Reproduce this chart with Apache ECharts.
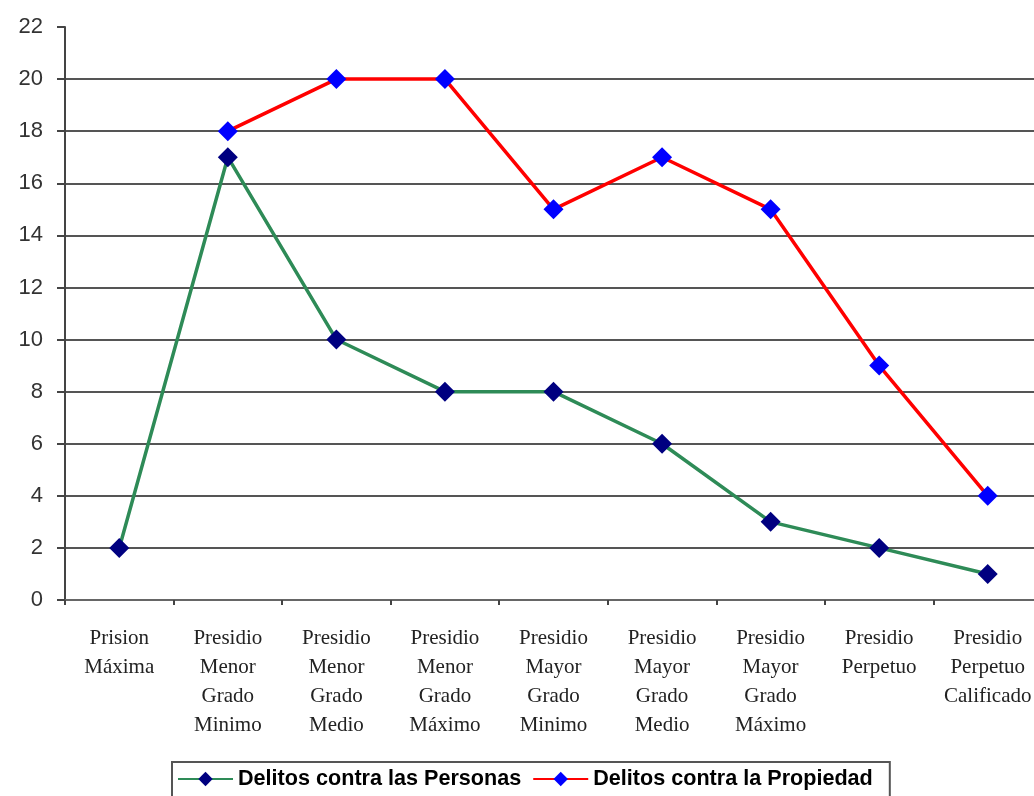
<!DOCTYPE html>
<html>
<head>
<meta charset="utf-8">
<script src="https://cdn.jsdelivr.net/npm/echarts@6/dist/echarts.min.js"></script>
<style>
  html, body { margin: 0; padding: 0; background: #ffffff; }
  #chart { width: 1034px; height: 796px; }
</style>
</head>
<body>
<div id="chart"></div>
<script>
// Sentence categories (x axis)
const categories = [
  'Prision\nMáxima',
  'Presidio\nMenor\nGrado\nMinimo',
  'Presidio\nMenor\nGrado\nMedio',
  'Presidio\nMenor\nGrado\nMáximo',
  'Presidio\nMayor\nGrado\nMinimo',
  'Presidio\nMayor\nGrado\nMedio',
  'Presidio\nMayor\nGrado\nMáximo',
  'Presidio\nPerpetuo',
  'Presidio\nPerpetuo\nCalificado'
];

// Counts per category
const personas = [2, 17, 10, 8, 8, 6, 3, 2, 1];
const propiedad = [null, 18, 20, 20, 15, 17, 15, 9, 4];

const seriesNames = ['Delitos contra las Personas', 'Delitos contra la Propiedad'];

const chart = echarts.init(document.getElementById('chart'), null, { renderer: 'canvas' });

chart.setOption({
  backgroundColor: '#ffffff',
  animation: false,
  // plot area runs slightly past the right edge of the canvas
  grid: { left: 65, top: 27, right: -8, bottom: 196, containLabel: false, outerBoundsMode: 'none' },
  legend: {
    left: 172,
    top: 762,
    padding: [6, 17, 12, 5],
    borderColor: '#555555',
    borderWidth: 2,
    itemGap: 11,
    itemWidth: 55,
    itemHeight: 18,
    textStyle: {
      fontFamily: 'Liberation Sans, Arial, sans-serif',
      fontWeight: 'bold',
      fontSize: 21.6,
      color: '#000000'
    },
    data: seriesNames
  },
  xAxis: {
    type: 'category',
    data: categories,
    boundaryGap: true,
    axisLine: { lineStyle: { color: '#666666', width: 2 } },
    axisTick: { show: true, length: 5, lineStyle: { color: '#444444', width: 2 } },
    axisLabel: {
      interval: 0,
      margin: 24,
      fontFamily: 'Liberation Serif, Times New Roman, serif',
      fontSize: 21,
      lineHeight: 29,
      color: '#222222'
    },
    splitLine: { show: false }
  },
  yAxis: {
    type: 'value',
    min: 0,
    max: 22,
    interval: 2,
    axisLine: { show: true, lineStyle: { color: '#444444', width: 2 } },
    axisTick: { show: true, length: 8, lineStyle: { color: '#444444', width: 2 } },
    axisLabel: {
      margin: 22,
      fontFamily: 'Liberation Sans, Arial, sans-serif',
      fontSize: 22,
      color: '#333333'
    },
    splitLine: {
      show: true,
      showMaxLine: false,
      lineStyle: { color: '#555555', width: 2 }
    }
  },
  series: [
    {
      name: seriesNames[0],
      type: 'line',
      data: personas,
      symbol: 'diamond',
      symbolSize: 20,
      itemStyle: { color: '#000080' },
      lineStyle: { color: '#2E8B57', width: 3.5 },
      z: 3
    },
    {
      name: seriesNames[1],
      type: 'line',
      data: propiedad,
      connectNulls: false,
      symbol: 'diamond',
      symbolSize: 20,
      itemStyle: { color: '#0000FF' },
      lineStyle: { color: '#FF0000', width: 3.5 },
      z: 2
    }
  ]
});
</script>
</body>
</html>
